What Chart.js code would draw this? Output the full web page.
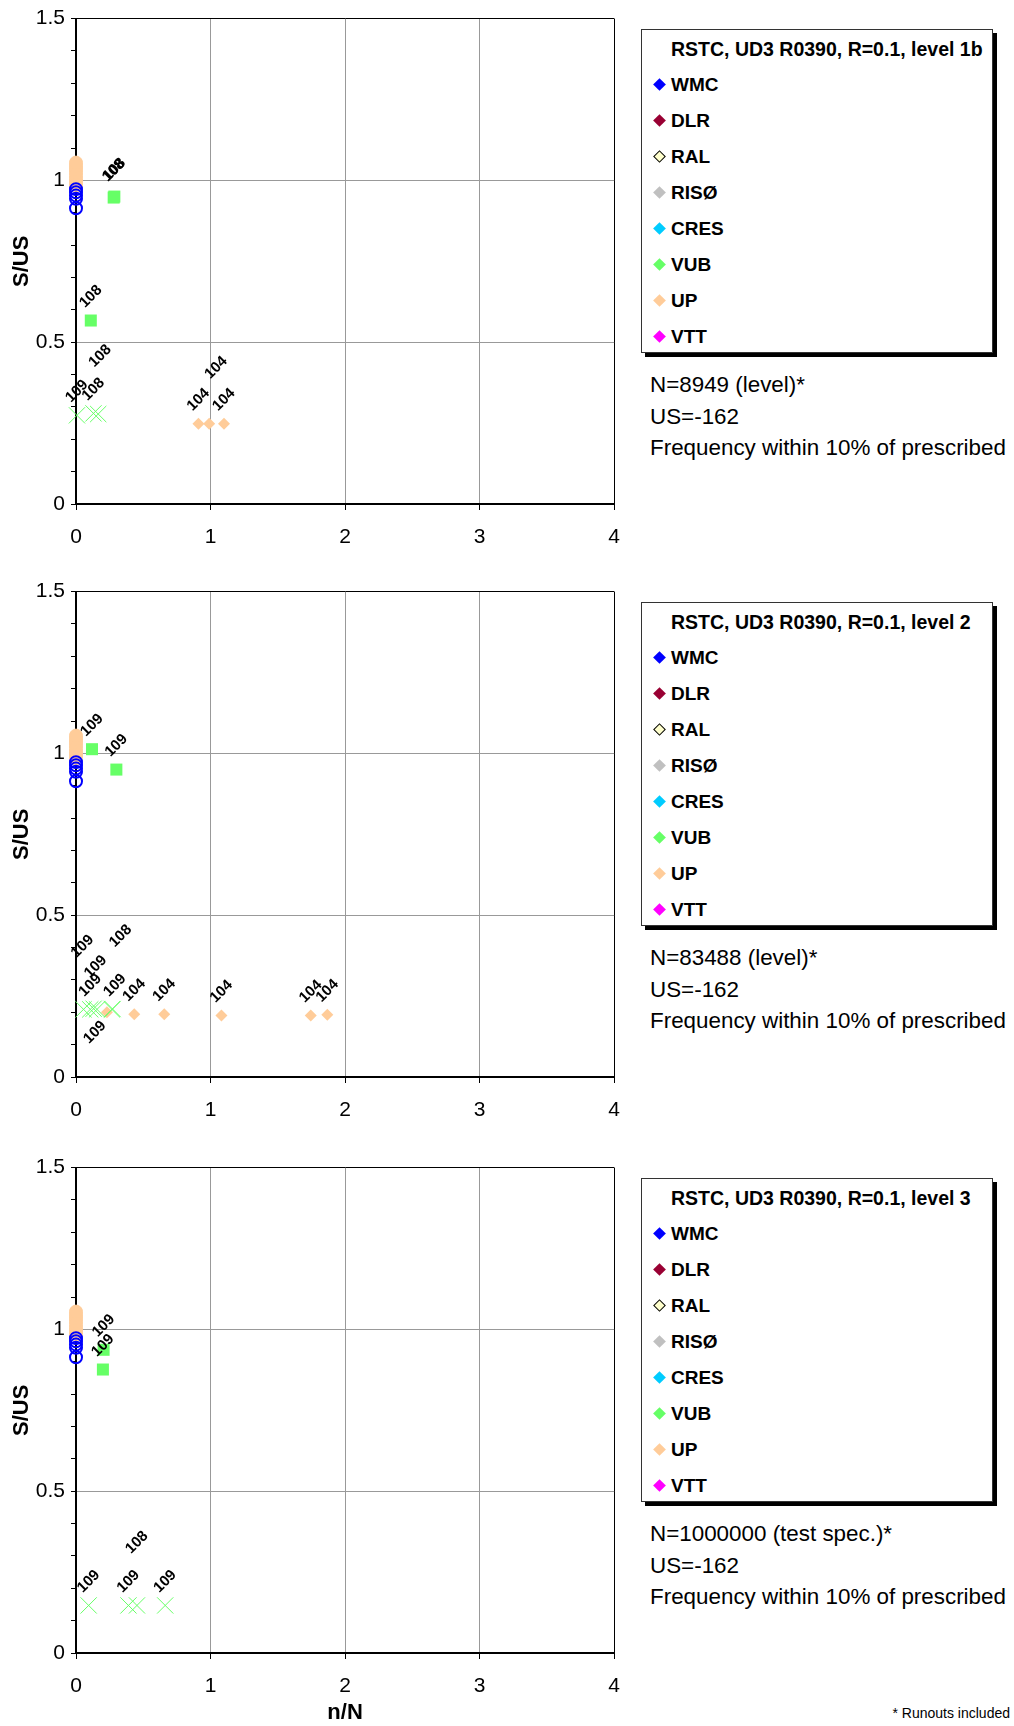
<!DOCTYPE html>
<html>
<head>
<meta charset="utf-8">
<script src="https://cdn.jsdelivr.net/npm/chart.js@4.4.0/dist/chart.umd.min.js"></script>
<style>
  body { margin: 0; background: #fff; font-family: "Liberation Sans", Arial, sans-serif; }
  #page { position: relative; width: 1014px; height: 1726px; overflow: hidden; }
  canvas { position: absolute; left: 0; }
  .legend { position: absolute; left: 641px; width: 352px; height: 324px; border: 1px solid #333;
            box-shadow: 4px 4px 0 #000; background: #fff; box-sizing: border-box; }
  .legend .ttl { position: absolute; left: 29px; top: 7px; font-weight: bold; font-size: 19.5px;
                 line-height: 24px; white-space: nowrap; }
  .legend .item { position: absolute; left: 29px; font-weight: bold; font-size: 19px; line-height: 24px; }
  .legend .mk { position: absolute; left: 13px; width: 9px; height: 9px; transform: rotate(45deg); box-sizing: border-box; }
  .notes { position: absolute; left: 650px; font-size: 22.4px; line-height: 31.5px; color: #000; white-space: nowrap; }
  #runouts { position: absolute; right: 4px; top: 1705px; font-size: 14px; }
</style>
</head>
<body>
<div id="page">
  <div id="runouts">* Runouts included</div>
</div>
<script>
// ---- data ----
const xTickValues = [0, 1, 2, 3, 4];
const yMajorTicks = [0, 0.5, 1, 1.5];

const legendNames = ['WMC', 'DLR', 'RAL', 'RISØ', 'CRES', 'VUB', 'UP', 'VTT'];
const legendColors = ['#0000FF', '#990033', '#FFFFCC', '#C0C0C0', '#00CCFF', '#66FF66', '#FFCC99', '#FF00FF'];

const panelTitles = [
  'RSTC, UD3 R0390, R=0.1, level 1b',
  'RSTC, UD3 R0390, R=0.1, level 2',
  'RSTC, UD3 R0390, R=0.1, level 3'
];
const panelNotes = [
  ['N=8949 (level)*', 'US=-162', 'Frequency within 10% of prescribed'],
  ['N=83488 (level)*', 'US=-162', 'Frequency within 10% of prescribed'],
  ['N=1000000 (test spec.)*', 'US=-162', 'Frequency within 10% of prescribed']
];

// static points at n/N = 0, same in every panel
const wmcRunoutY = [0.914, 0.943, 0.953, 0.963, 0.973];
const upStaticY = [0.985, 0.995, 1.005, 1.015, 1.025, 1.035, 1.045, 1.055];

// level 1b
const l1SquareX = [0.28, 0.285, 0.11];
const l1SquareY = [0.947, 0.95, 0.567];
const l1SquareLbl = ['108', '108', '108'];
const l1CrossX = [0.007, 0.13, 0.165];
const l1CrossY = [0.274, 0.28, 0.278];
const l1CrossLbl = ['109', '108', '108'];
const l1UpX = [0.91, 0.99, 1.10];
const l1UpY = [0.248, 0.248, 0.248];
const l1UpLbl = ['104', '104', '104'];

// level 2
const l2SquareX = [0.119, 0.30];
const l2SquareY = [1.013, 0.95];
const l2SquareLbl = ['109', '109'];
const l2CrossX = [0.056, 0.106, 0.131, 0.156, 0.267, 0.272];
const l2CrossY = [0.209, 0.209, 0.211, 0.209, 0.209, 0.21];
const l2CrossLbl = ['109', '109', '109', '109', '109', '108'];
const l2UpX = [0.23, 0.433, 0.656, 1.081, 1.745, 1.868];
const l2UpY = [0.2, 0.194, 0.194, 0.19, 0.19, 0.192];
const l2UpLbl = ['', '104', '104', '104', '104', '104'];

// level 3
const l3SquareX = [0.205, 0.2];
const l3SquareY = [0.937, 0.876];
const l3SquareLbl = ['109', '109'];
const l3CrossX = [0.094, 0.39, 0.453, 0.663];
const l3CrossY = [0.147, 0.147, 0.147, 0.147];
const l3CrossLbl = ['109', '109', '108', '109'];

// label nudges [dx, lift] where labels were moved by hand
const nudges = {
  l1Square: [[0, 3], [0, 3], [0, 0]],
  l1Cross: [[0, 0], [0, 0], [2, 34]],
  l1Up: [[0, 0], [7, 32], [0, 0]],
  l2Cross: [[-1, 39], [0, 0], [2, 18], [-2, -47], [3, 0], [8, 49]],
  l3Cross: [[0, 0], [0, 0], [0, 39], [0, 0]]
};

// ---- helpers ----
const FONT = '"Liberation Sans", Arial, sans-serif';
const pts = (xs, ys) => xs.map((x, i) => ({ x: x, y: ys[i] }));
const zeros = ys => ys.map(y => ({ x: 0, y: y }));
const isMajor = v => Math.abs(v * 2 - Math.round(v * 2)) < 1e-6;

const pointLabels = {
  id: 'pointLabels',
  afterDatasetsDraw(chart) {
    const ctx = chart.ctx;
    chart.data.datasets.forEach((ds, di) => {
      if (!ds.pointLabels) return;
      chart.getDatasetMeta(di).data.forEach((el, j) => {
        const txt = ds.pointLabels[j];
        if (!txt) return;
        const n = (ds.labelNudge && ds.labelNudge[j]) || [0, 0];
        ctx.save();
        ctx.translate(el.x + n[0], el.y - 24 - n[1]);
        ctx.rotate(-Math.PI / 4);
        ctx.font = 'bold 15px ' + FONT;
        ctx.fillStyle = '#000';
        ctx.textAlign = 'center';
        ctx.textBaseline = 'middle';
        ctx.fillText(txt, 0, 0);
        ctx.restore();
      });
    });
  }
};

function staticSets() {
  return [
    { label: 'WMC runout', data: zeros(wmcRunoutY), pointStyle: 'circle', pointRadius: 6,
      backgroundColor: 'rgba(0,0,0,0)', borderColor: '#0000FF', pointBorderWidth: 2, clip: false },
    { label: 'UP static', data: zeros(upStaticY), pointStyle: 'circle', pointRadius: 6.5,
      backgroundColor: '#FFCC99', borderColor: '#FFCC99', pointBorderWidth: 1, clip: false }
  ];
}
function squareSet(xs, ys, lbl, nud) {
  return { label: 'VUB', data: pts(xs, ys), pointStyle: 'rect', pointRadius: 8.5,
    backgroundColor: '#66FF66', borderColor: '#66FF66', pointBorderWidth: 0, pointLabels: lbl, labelNudge: nud, clip: false };
}
function crossSet(xs, ys, lbl, nud) {
  return { label: 'VUB runout', data: pts(xs, ys), pointStyle: 'crossRot', pointRadius: 11.5,
    borderColor: '#66FF66', pointBorderWidth: 1, pointLabels: lbl, labelNudge: nud, clip: false };
}
function upSet(xs, ys, lbl, nud) {
  return { label: 'UP', data: pts(xs, ys), pointStyle: 'rectRot', pointRadius: 6,
    backgroundColor: '#FFCC99', borderColor: '#FFCC99', pointBorderWidth: 0, pointLabels: lbl, labelNudge: nud, clip: false };
}

const panels = [
  { top: 0, height: 560, sets: [...staticSets(), squareSet(l1SquareX, l1SquareY, l1SquareLbl, nudges.l1Square),
      crossSet(l1CrossX, l1CrossY, l1CrossLbl, nudges.l1Cross), upSet(l1UpX, l1UpY, l1UpLbl, nudges.l1Up)] },
  { top: 573, height: 560, sets: [...staticSets(), squareSet(l2SquareX, l2SquareY, l2SquareLbl),
      crossSet(l2CrossX, l2CrossY, l2CrossLbl, nudges.l2Cross), upSet(l2UpX, l2UpY, l2UpLbl)] },
  { top: 1149, height: 577, xTitle: 'n/N', sets: [...staticSets(), squareSet(l3SquareX, l3SquareY, l3SquareLbl),
      crossSet(l3CrossX, l3CrossY, l3CrossLbl, nudges.l3Cross)] }
];

const page = document.getElementById('page');
const PLOT_TOP = 15, PLOT_H = 489;

panels.forEach((p, i) => {
  const cv = document.createElement('canvas');
  cv.width = 635; cv.height = p.height;
  cv.style.top = p.top + 'px';
  page.appendChild(cv);

  // legend box, rows 36px apart
  const lg = document.createElement('div');
  lg.className = 'legend';
  lg.style.top = (p.top + 29) + 'px';
  let html = '<div class="ttl">' + panelTitles[i] + '</div>';
  legendNames.forEach((nm, k) => {
    const c = legendColors[k];
    const border = nm === 'RAL' ? 'border:1px solid #000;' : '';
    const y = 55 + 36 * k;
    html += '<div class="mk" style="top:' + (y - 5.5) + 'px;background:' + c + ';' + border + '"></div>';
    html += '<div class="item" style="top:' + (y - 12) + 'px">' + nm + '</div>';
  });
  lg.innerHTML = html;
  page.appendChild(lg);

  const nt = document.createElement('div');
  nt.className = 'notes';
  nt.style.top = (p.top + 369) + 'px';
  nt.innerHTML = panelNotes[i].join('<br>');
  page.appendChild(nt);

  const xAxisH = p.height - PLOT_TOP - PLOT_H;

  new Chart(cv.getContext('2d'), {
    type: 'scatter',
    data: { datasets: p.sets },
    options: {
      responsive: false,
      animation: false,
      layout: { padding: { top: PLOT_TOP, left: 0, right: 0, bottom: 0 } },
      plugins: { legend: { display: false }, tooltip: { enabled: false } },
      scales: {
        x: {
          type: 'linear', min: 0, max: 4,
          afterBuildTicks: s => { s.ticks = xTickValues.map(v => ({ value: v })); },
          ticks: { color: '#000', font: { size: 21, family: FONT }, padding: 15, maxRotation: 0 },
          grid: { color: c => (c.tick && c.tick.value === 4) ? '#000' : '#999', tickColor: '#000', tickLength: 6, lineWidth: 1 },
          border: { color: '#000', width: 2 },
          title: { display: !!p.xTitle, text: p.xTitle || '', color: '#000',
                   font: { size: 22, weight: 'bold', family: FONT }, padding: { top: 4, bottom: 0 } },
          afterFit: s => { s.height = xAxisH; }
        },
        y: {
          min: 0, max: 1.5,
          ticks: { stepSize: 0.1, autoSkip: false, color: '#000', font: { size: 21, family: FONT }, padding: 6,
                   callback: v => (isMajor(v) && yMajorTicks.some(t => Math.abs(t - v) < 1e-6)) ? String(Math.round(v * 10) / 10) : '' },
          grid: { color: c => { const v = c.tick ? c.tick.value : 0; return v > 1.49 ? '#000' : (isMajor(v) && v > 0 ? '#999' : 'rgba(0,0,0,0)'); },
                  tickColor: '#000', tickLength: 5, lineWidth: 1 },
          border: { color: '#000', width: 2 },
          title: { display: true, text: 'S/US', color: '#000', font: { size: 22, weight: 'bold', family: FONT },
                   padding: { top: 9, bottom: 0 } },
          afterFit: s => { s.width = 76; }
        }
      }
    },
    plugins: [pointLabels]
  });
});
</script>
</body>
</html>
